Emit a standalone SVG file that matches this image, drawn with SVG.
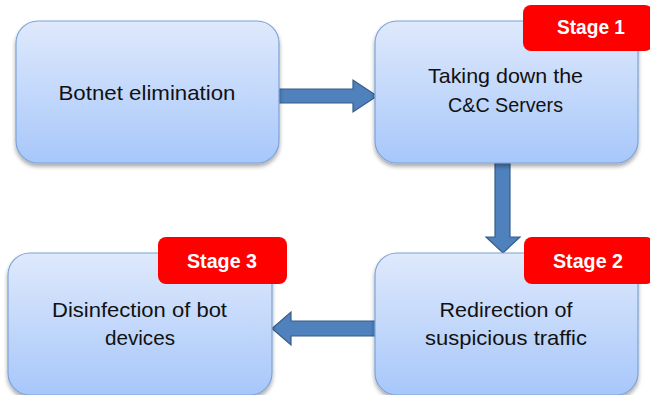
<svg xmlns="http://www.w3.org/2000/svg" width="650" height="395" viewBox="0 0 650 395">
<defs>
<linearGradient id="bg" x1="0" y1="0" x2="0" y2="1">
<stop offset="0" stop-color="#dfe9fc"/>
<stop offset="1" stop-color="#a7c7fa"/>
</linearGradient>
<filter id="sh" x="-10%" y="-10%" width="120%" height="130%">
<feGaussianBlur in="SourceAlpha" stdDeviation="2"/>
<feOffset dx="0" dy="3" result="b"/>
<feComponentTransfer><feFuncA type="linear" slope="0.35"/></feComponentTransfer>
<feMerge><feMergeNode/><feMergeNode in="SourceGraphic"/></feMerge>
</filter>
</defs>
<style>
.box{fill:url(#bg);stroke:#7da3d6;stroke-width:1.2;filter:url(#sh)}
.badge{fill:#ff0000;}
.t{font-family:"Liberation Sans",Arial,sans-serif;font-size:21px;fill:#111;text-anchor:middle}
.s{font-family:"Liberation Sans",Arial,sans-serif;font-size:20px;font-weight:bold;fill:#fff;text-anchor:middle}
.arr{fill:#4f81bd;stroke:#385d8a;stroke-width:1.2}
</style>
<rect width="650" height="395" fill="#fff"/>
<g id="connectors">
<polygon class="arr" points="279,89 353,89 353,80 377,96 353,112 353,103 279,103"/>
<polygon class="arr" points="495,163 510,163 510,237 520,237 503,253 486,237 495,237"/>
<polygon class="arr" points="376,321 291,321 291,312 272,328.5 291,345 291,336 376,336"/>
</g>
<g id="n1">
<rect class="box" x="16" y="21" width="263" height="142" rx="22"/>
<text class="t" x="147" y="100" textLength="177" lengthAdjust="spacingAndGlyphs">Botnet elimination</text>
</g>
<g id="n2">
<rect class="box" x="375" y="21" width="263" height="142" rx="22"/>
<text class="t" x="505.5" y="83" textLength="155" lengthAdjust="spacingAndGlyphs">Taking down the</text>
<text class="t" x="505.5" y="112" textLength="115" lengthAdjust="spacingAndGlyphs">C&amp;C Servers</text>
</g>
<g id="n3">
<rect class="box" x="375" y="253" width="263" height="142" rx="22"/>
<text class="t" x="506" y="317" textLength="133" lengthAdjust="spacingAndGlyphs">Redirection of</text>
<text class="t" x="506" y="345" textLength="162" lengthAdjust="spacingAndGlyphs">suspicious traffic</text>
</g>
<g id="n4">
<rect class="box" x="8" y="253" width="264" height="142" rx="22"/>
<text class="t" x="139.5" y="317" textLength="175" lengthAdjust="spacingAndGlyphs">Disinfection of bot</text>
<text class="t" x="140" y="345" textLength="70" lengthAdjust="spacingAndGlyphs">devices</text>
</g>
<g id="stage1">
<rect class="badge" x="523" y="5" width="130" height="46" rx="8"/>
<text class="s" x="591" y="34" textLength="68" lengthAdjust="spacingAndGlyphs">Stage 1</text>
</g>
<g id="stage2">
<rect class="badge" x="524" y="237" width="130" height="47" rx="8"/>
<text class="s" x="588" y="268" textLength="70" lengthAdjust="spacingAndGlyphs">Stage 2</text>
</g>
<g id="stage3">
<rect class="badge" x="158" y="237" width="129" height="47" rx="8"/>
<text class="s" x="222" y="268" textLength="70" lengthAdjust="spacingAndGlyphs">Stage 3</text>
</g>
</svg>
